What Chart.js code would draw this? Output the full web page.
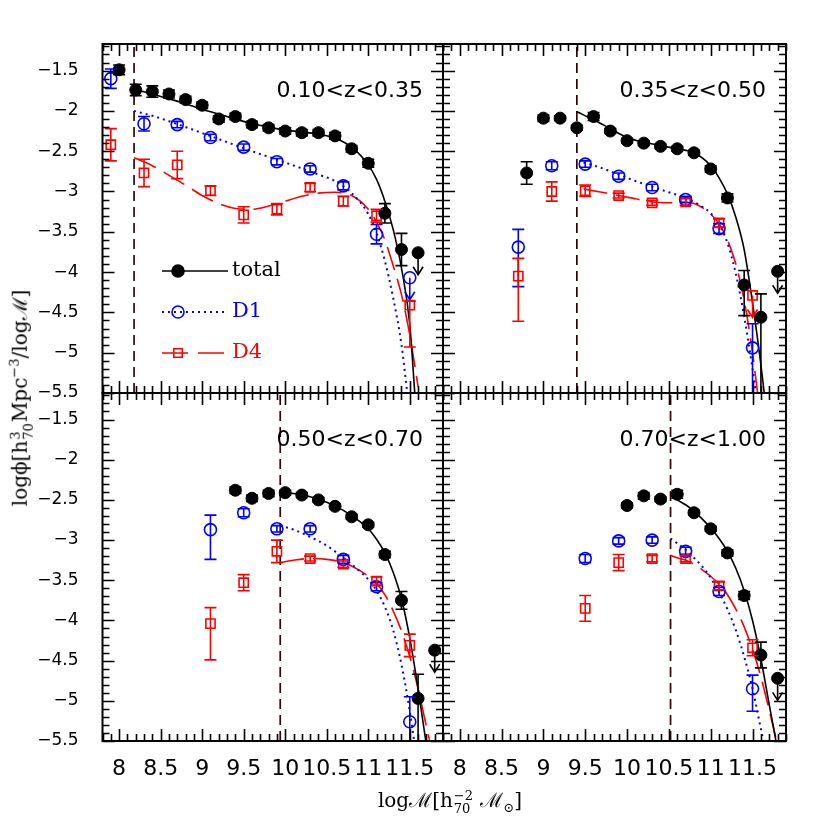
<!DOCTYPE html>
<html>
<head>
<meta charset="utf-8">
<script src="https://cdn.jsdelivr.net/npm/chart.js@4.4.1/dist/chart.umd.min.js"></script>
<style>
  html, body { margin: 0; padding: 0; background: #fff; }
  #wrap { position: relative; width: 830px; height: 830px; overflow: hidden; }
  #wrap canvas { position: absolute; left: 0; top: 0; }
  .ttl { position: absolute; font-family: "DejaVu Serif", serif; font-size: 20px; color: #000; white-space: nowrap; }
  #ytitle { left: 20px; top: 398px; transform: translate(-50%, -50%) rotate(-90deg); }
  #xtitle { left: 450px; top: 800px; transform: translate(-50%, -50%); }
  .ss { display: inline-flex; flex-direction: column; font-size: 13px; line-height: 1; vertical-align: middle; margin: 0 1px; }
  sup, sub { font-size: 13px; }
</style>
</head>
<body>
<div id="wrap">
  <canvas id="cTL" width="830" height="830"></canvas>
  <canvas id="cTR" width="830" height="830"></canvas>
  <canvas id="cBL" width="830" height="830"></canvas>
  <canvas id="cBR" width="830" height="830"></canvas>
  <div id="ytitle" class="ttl">logϕ[h<span class="ss"><span>3</span><span>70</span></span>Mpc<sup>−3</sup>/logℳ]</div>
  <div id="xtitle" class="ttl">logℳ[h<span class="ss"><span>−2</span><span>70</span></span> ℳ<sub>⊙</sub>]</div>
</div>
<script>
// axes
const xTicks = [8, 8.5, 9, 9.5, 10, 10.5, 11, 11.5];
const yTicks = [-1.5, -2, -2.5, -3, -3.5, -4, -4.5, -5, -5.5];
const xRange = [7.8, 11.9];
const yRange = [-5.5, -1.17];
const zLabels = ['0.10<z<0.35', '0.35<z<0.50', '0.50<z<0.70', '0.70<z<1.00'];
const massLimits = [8.18, 9.40, 9.94, 10.52];
const seriesNames = ['total', 'D1', 'D4'];

// 0.10<z<0.35
const tlTotX = [8.0, 8.2, 8.4, 8.6, 8.8, 9.0, 9.2, 9.4, 9.6, 9.8, 10.0, 10.2, 10.4, 10.6, 10.8, 11.0, 11.2, 11.4, 11.6];
const tlTotY = [-1.49, -1.74, -1.76, -1.79, -1.86, -1.93, -2.10, -2.07, -2.17, -2.21, -2.25, -2.27, -2.27, -2.31, -2.47, -2.65, -3.27, -3.72, -3.76];
const tlTotErr = [0.06, 0.07, 0.07, 0.05, 0.04, 0.04, 0.04, 0.04, 0.04, 0.04, 0.04, 0.04, 0.04, 0.04, 0.04, 0.05, 0.12, 0.2, 0];
const tlTotLim = [11.6];
const tlD1X = [7.9, 8.3, 8.7, 9.1, 9.5, 9.9, 10.3, 10.7, 11.1, 11.5];
const tlD1Y = [-1.60, -2.16, -2.17, -2.33, -2.45, -2.63, -2.72, -2.93, -3.53, -4.07];
const tlD1Err = [0.12, 0.09, 0.04, 0.04, 0.04, 0.04, 0.04, 0.05, 0.12, 0];
const tlD1Lim = [11.5];
const tlD4X = [7.9, 8.3, 8.7, 9.1, 9.5, 9.9, 10.3, 10.7, 11.1, 11.5];
const tlD4Y = [-2.42, -2.77, -2.67, -2.99, -3.29, -3.22, -2.95, -3.12, -3.30, -4.41];
const tlD4Err = [0.2, 0.17, 0.17, 0.06, 0.1, 0.07, 0.05, 0.06, 0.08, [0.52, 0.05]];
const tlTotFitX = [8.18, 8.4, 8.6, 8.8, 9.0, 9.2, 9.4, 9.6, 9.8, 10.0, 10.2, 10.4, 10.6, 10.8, 11.0, 11.1, 11.2, 11.3, 11.4, 11.5, 11.56];
const tlTotFitY = [-1.73, -1.79, -1.85, -1.91, -1.98, -2.04, -2.10, -2.16, -2.20, -2.24, -2.26, -2.29, -2.34, -2.45, -2.67, -2.85, -3.12, -3.47, -3.95, -4.65, -5.5];
const tlD1FitX = [8.18, 8.4, 8.8, 9.2, 9.6, 10.0, 10.4, 10.6, 10.8, 11.0, 11.1, 11.2, 11.3, 11.4, 11.47];
const tlD1FitY = [-2.00, -2.06, -2.20, -2.35, -2.50, -2.64, -2.79, -2.87, -3.02, -3.28, -3.52, -3.86, -4.32, -4.90, -5.5];
const tlD4FitX = [8.18, 8.4, 8.6, 8.8, 9.0, 9.2, 9.4, 9.6, 9.8, 10.0, 10.2, 10.4, 10.6, 10.8, 11.0, 11.1, 11.2, 11.3, 11.4, 11.5, 11.6];
const tlD4FitY = [-2.58, -2.68, -2.80, -2.92, -3.05, -3.15, -3.21, -3.22, -3.18, -3.12, -3.06, -3.02, -3.01, -3.05, -3.22, -3.38, -3.60, -3.92, -4.28, -4.78, -5.42];

// 0.35<z<0.50
const trTotX = [8.8, 9.0, 9.2, 9.4, 9.6, 9.8, 10.0, 10.2, 10.4, 10.6, 10.8, 11.0, 11.2, 11.4, 11.6, 11.8];
const trTotY = [-2.77, -2.09, -2.09, -2.21, -2.07, -2.25, -2.37, -2.40, -2.44, -2.47, -2.52, -2.72, -3.08, -4.16, -4.56, -3.99];
const trTotErr = [0.14, 0.04, 0.03, 0.03, 0.05, 0.03, 0.03, 0.03, 0.03, 0.03, 0.03, 0.04, 0.05, [0.38, 0.18], [1.0, 0.29], 0];
const trTotLim = [11.8];
const trD1X = [8.7, 9.1, 9.5, 9.9, 10.3, 10.7, 11.1, 11.5];
const trD1Y = [-3.69, -2.68, -2.66, -2.81, -2.95, -3.10, -3.46, -4.94];
const trD1Err = [[0.49, 0.22], 0.05, 0.04, 0.04, 0.04, 0.04, 0.06, [0.6, 0.3]];
const trD4X = [8.7, 9.1, 9.5, 9.9, 10.3, 10.7, 11.1, 11.5];
const trD4Y = [-4.05, -3.00, -2.99, -3.05, -3.14, -3.13, -3.39, -4.29];
const trD4Err = [[0.56, 0.22], 0.12, 0.07, 0.03, 0.03, 0.04, 0.05, 0];
const trD4Lim = [11.5];
const trTotFitX = [9.40, 9.6, 9.8, 10.0, 10.2, 10.4, 10.6, 10.8, 11.0, 11.1, 11.2, 11.3, 11.4, 11.5, 11.6, 11.64];
const trTotFitY = [-2.01, -2.11, -2.22, -2.33, -2.39, -2.43, -2.47, -2.52, -2.68, -2.83, -3.03, -3.32, -3.72, -4.38, -5.15, -5.5];
const trD1FitX = [9.48, 9.7, 9.9, 10.1, 10.3, 10.5, 10.7, 10.9, 11.0, 11.1, 11.2, 11.3, 11.4, 11.5, 11.54];
const trD1FitY = [-2.64, -2.71, -2.79, -2.87, -2.94, -3.01, -3.08, -3.19, -3.27, -3.41, -3.64, -4.02, -4.55, -5.2, -5.5];
const trD4FitX = [9.48, 9.7, 9.9, 10.1, 10.3, 10.5, 10.7, 10.8, 10.9, 11.0, 11.1, 11.2, 11.3, 11.4, 11.5, 11.56];
const trD4FitY = [-2.97, -3.01, -3.05, -3.09, -3.13, -3.14, -3.13, -3.15, -3.20, -3.28, -3.40, -3.60, -3.90, -4.35, -5.0, -5.5];

// 0.50<z<0.70
const blTotX = [9.4, 9.6, 9.8, 10.0, 10.2, 10.4, 10.6, 10.8, 11.0, 11.2, 11.4, 11.6, 11.8];
const blTotY = [-2.38, -2.48, -2.42, -2.41, -2.44, -2.50, -2.58, -2.71, -2.81, -3.18, -3.75, -4.97, -4.37];
const blTotErr = [0.04, 0.04, 0.04, 0.03, 0.03, 0.03, 0.03, 0.03, 0.03, 0.04, 0.11, [0.6, 0.3], 0];
const blTotLim = [11.8];
const blD1X = [9.1, 9.5, 9.9, 10.3, 10.7, 11.1, 11.5];
const blD1Y = [-2.87, -2.66, -2.86, -2.86, -3.24, -3.58, -5.26];
const blD1Err = [[0.37, 0.18], 0.05, 0.04, 0.04, 0.05, 0.05, [0.3, 0.31]];
const blD4X = [9.1, 9.5, 9.9, 10.3, 10.7, 11.1, 11.5];
const blD4Y = [-4.04, -3.53, -3.14, -3.23, -3.30, -3.51, -4.31];
const blD4Err = [[0.45, 0.2], 0.1, 0.14, 0.03, 0.04, 0.05, 0.14];
const blTotFitX = [9.94, 10.1, 10.3, 10.5, 10.7, 10.9, 11.0, 11.1, 11.2, 11.3, 11.4, 11.5, 11.6, 11.7];
const blTotFitY = [-2.41, -2.42, -2.46, -2.53, -2.63, -2.77, -2.86, -2.99, -3.16, -3.40, -3.73, -4.22, -4.85, -5.55];
const blD1FitX = [9.94, 10.1, 10.3, 10.5, 10.7, 10.9, 11.0, 11.1, 11.2, 11.3, 11.4, 11.5, 11.56];
const blD1FitY = [-2.82, -2.87, -2.96, -3.07, -3.22, -3.39, -3.49, -3.63, -3.83, -4.12, -4.55, -5.13, -5.55];
const blD4FitX = [9.94, 10.1, 10.3, 10.5, 10.7, 10.9, 11.0, 11.1, 11.2, 11.3, 11.4, 11.5, 11.6, 11.7, 11.75];
const blD4FitY = [-3.28, -3.25, -3.23, -3.24, -3.28, -3.38, -3.45, -3.54, -3.68, -3.88, -4.13, -4.45, -4.85, -5.32, -5.55];

// 0.70<z<1.00
const brTotX = [10.0, 10.2, 10.4, 10.6, 10.8, 11.0, 11.2, 11.4, 11.6, 11.8];
const brTotY = [-2.57, -2.45, -2.49, -2.43, -2.66, -2.86, -3.16, -3.69, -4.43, -4.72];
const brTotErr = [0.03, 0.04, 0.03, 0.05, 0.03, 0.03, 0.04, 0.05, 0.16, 0];
const brTotLim = [11.8];
const brD1X = [9.5, 9.9, 10.3, 10.7, 11.1, 11.5];
const brD1Y = [-3.23, -3.01, -3.00, -3.14, -3.64, -4.85];
const brD1Err = [0.05, 0.04, 0.04, 0.05, 0.05, [0.28, 0.17]];
const brD4X = [9.5, 9.9, 10.3, 10.7, 11.1, 11.5];
const brD4Y = [-3.85, -3.28, -3.23, -3.23, -3.57, -4.34];
const brD4Err = [0.16, 0.1, 0.04, 0.04, 0.05, 0.1];
const brTotFitX = [10.52, 10.6, 10.7, 10.8, 10.9, 11.0, 11.1, 11.2, 11.3, 11.4, 11.5, 11.6, 11.7, 11.78];
const brTotFitY = [-2.44, -2.50, -2.56, -2.64, -2.74, -2.85, -2.98, -3.14, -3.35, -3.63, -4.00, -4.48, -5.05, -5.5];
const brD1FitX = [10.52, 10.6, 10.7, 10.8, 10.9, 11.0, 11.1, 11.2, 11.3, 11.4, 11.5, 11.6, 11.63];
const brD1FitY = [-2.98, -3.04, -3.12, -3.22, -3.33, -3.47, -3.65, -3.86, -4.12, -4.45, -4.85, -5.35, -5.5];
const brD4FitX = [10.52, 10.6, 10.7, 10.8, 10.9, 11.0, 11.1, 11.2, 11.3, 11.4, 11.5, 11.6, 11.7, 11.8];
const brD4FitY = [-3.19, -3.22, -3.25, -3.30, -3.37, -3.45, -3.55, -3.68, -3.86, -4.08, -4.36, -4.70, -5.12, -5.55];

const BLUE = '#0000ff';
const RED = '#ff0000';
const Y_AXIS_W = 100;
const X_AXIS_H = 50;

const panels = [
  { id: 'cTL', box: { l: 102.5, r: 443, t: 44, b: 393 }, showX: false, showY: true, legend: true,
    tot: [tlTotX, tlTotY, tlTotErr, tlTotLim], d1: [tlD1X, tlD1Y, tlD1Err, tlD1Lim], d4: [tlD4X, tlD4Y, tlD4Err, []],
    fits: [[tlTotFitX, tlTotFitY], [tlD1FitX, tlD1FitY], [tlD4FitX, tlD4FitY]] },
  { id: 'cTR', box: { l: 443, r: 786, t: 44, b: 393 }, showX: false, showY: false,
    tot: [trTotX, trTotY, trTotErr, trTotLim], d1: [trD1X, trD1Y, trD1Err, []], d4: [trD4X, trD4Y, trD4Err, trD4Lim],
    fits: [[trTotFitX, trTotFitY], [trD1FitX, trD1FitY], [trD4FitX, trD4FitY]] },
  { id: 'cBL', box: { l: 102.5, r: 443, t: 393, b: 741 }, showX: true, showY: true,
    tot: [blTotX, blTotY, blTotErr, blTotLim], d1: [blD1X, blD1Y, blD1Err, []], d4: [blD4X, blD4Y, blD4Err, []],
    fits: [[blTotFitX, blTotFitY], [blD1FitX, blD1FitY], [blD4FitX, blD4FitY]] },
  { id: 'cBR', box: { l: 443, r: 786, t: 393, b: 741 }, showX: true, showY: false,
    tot: [brTotX, brTotY, brTotErr, brTotLim], d1: [brD1X, brD1Y, brD1Err, []], d4: [brD4X, brD4Y, brD4Err, []],
    fits: [[brTotFitX, brTotFitY], [brD1FitX, brD1FitY], [brD4FitX, brD4FitY]] }
];

function pts(xs, ys) {
  return xs.map((x, i) => ({ x: x, y: ys[i] }));
}
function fmt(v) {
  return (v < 0 ? '\u2212' : '') + String(Math.abs(v));
}

// error bars + upper-limit arrows
const errorBars = {
  id: 'errorBars',
  afterDatasetsDraw(chart) {
    const ctx = chart.ctx, a = chart.chartArea;
    const xs = chart.scales.x, ys = chart.scales.y;
    ctx.save();
    ctx.beginPath();
    ctx.rect(a.left, a.top, a.width, a.height);
    ctx.clip();
    chart.data.datasets.forEach(ds => {
      if (!ds.errs) return;
      ctx.strokeStyle = ds.borderColor;
      ctx.lineWidth = 1.6;
      ds.data.forEach((p, j) => {
        const e = ds.errs[j];
        const dn = Array.isArray(e) ? e[0] : e;
        const up = Array.isArray(e) ? e[1] : e;
        const px = xs.getPixelForValue(p.x);
        const py = ys.getPixelForValue(p.y);
        if (dn > 0 || up > 0) {
          const y1 = ys.getPixelForValue(p.y + up);
          const y2 = ys.getPixelForValue(p.y - dn);
          ctx.beginPath();
          ctx.moveTo(px, y1); ctx.lineTo(px, y2);
          if (up > 0) { ctx.moveTo(px - 6, y1); ctx.lineTo(px + 6, y1); }
          if (dn > 0) { ctx.moveTo(px - 6, y2); ctx.lineTo(px + 6, y2); }
          ctx.stroke();
        }
        if (ds.lims && ds.lims.includes(p.x)) {
          ctx.beginPath();
          ctx.moveTo(px, py); ctx.lineTo(px, py + 22);
          ctx.moveTo(px - 5, py + 14); ctx.lineTo(px, py + 22); ctx.lineTo(px + 5, py + 14);
          ctx.stroke();
        }
      });
    });
    ctx.restore();
  }
};

// frame with inward ticks on all sides
const frame = {
  id: 'frame',
  afterDraw(chart) {
    const ctx = chart.ctx, a = chart.chartArea;
    const xs = chart.scales.x, ys = chart.scales.y;
    ctx.save();
    ctx.strokeStyle = '#000';
    ctx.lineWidth = 1.6;
    ctx.beginPath();
    for (let k = 78; k <= 119; k++) {
      const px = Math.round(xs.getPixelForValue(k / 10)) + 0.5;
      const len = k % 5 === 0 ? 12 : 7;
      ctx.moveTo(px, a.bottom); ctx.lineTo(px, a.bottom - len);
      ctx.moveTo(px, a.top); ctx.lineTo(px, a.top + len);
    }
    for (let k = -55; k <= -12; k++) {
      const py = Math.round(ys.getPixelForValue(k / 10)) + 0.5;
      const len = k % 5 === 0 ? 12 : 7;
      ctx.moveTo(a.left, py); ctx.lineTo(a.left + len, py);
      ctx.moveTo(a.right, py); ctx.lineTo(a.right - len, py);
    }
    ctx.stroke();
    ctx.lineWidth = 2;
    ctx.strokeRect(a.left, a.top, a.width, a.height);
    const label = chart.options.plugins.frame.label;
    ctx.fillStyle = '#000';
    ctx.font = '22px "DejaVu Sans"';
    ctx.textAlign = 'right';
    ctx.textBaseline = 'middle';
    ctx.fillText(label, a.right - 20, a.top + 47);
    ctx.restore();
  }
};

// in-panel key
const keyBox = {
  id: 'keyBox',
  afterDraw(chart) {
    if (!chart.options.plugins.keyBox.show) return;
    const ctx = chart.ctx;
    const rows = [
      { y: 271, color: '#000', dash: [], lw: 1.6, style: 'circle', r: 6, fill: true },
      { y: 312, color: BLUE, dash: [2, 4], lw: 2, style: 'circle', r: 6, fill: false },
      { y: 353, color: RED, dash: [26, 10], lw: 1.6, style: 'rect', r: 6, fill: false }
    ];
    ctx.save();
    rows.forEach((r, i) => {
      ctx.strokeStyle = r.color;
      ctx.lineWidth = r.lw;
      ctx.setLineDash(r.dash);
      ctx.beginPath();
      ctx.moveTo(162, r.y); ctx.lineTo(228, r.y);
      ctx.stroke();
      ctx.setLineDash([]);
      ctx.lineWidth = 1.6;
      ctx.fillStyle = r.fill ? r.color : 'rgba(0,0,0,0)';
      Chart.helpers.drawPoint(ctx, { pointStyle: r.style, radius: r.r, borderWidth: 1.6, rotation: 0 }, 178, r.y);
      ctx.fillStyle = r.color;
      ctx.font = '21px "DejaVu Serif"';
      ctx.textAlign = 'left';
      ctx.textBaseline = 'middle';
      ctx.fillText(seriesNames[i], 232, r.y);
    });
    ctx.restore();
  }
};

panels.forEach((p, i) => {
  const pad = {
    left: p.showY ? p.box.l - Y_AXIS_W : p.box.l,
    right: 830 - p.box.r,
    top: p.box.t,
    bottom: p.showX ? 830 - p.box.b - X_AXIS_H : 830 - p.box.b
  };
  const limLine = [{ x: massLimits[i], y: yRange[0] }, { x: massLimits[i], y: yRange[1] }];
  const datasets = [
    { label: seriesNames[0], data: pts(p.tot[0], p.tot[1]), errs: p.tot[2], lims: p.tot[3],
      pointStyle: 'circle', pointRadius: 6, backgroundColor: '#000', borderColor: '#000', borderWidth: 1, order: 0 },
    { label: seriesNames[1], data: pts(p.d1[0], p.d1[1]), errs: p.d1[2], lims: p.d1[3],
      pointStyle: 'circle', pointRadius: 6, backgroundColor: 'rgba(0,0,0,0)', borderColor: BLUE, borderWidth: 1.6, order: 0 },
    { label: seriesNames[2], data: pts(p.d4[0], p.d4[1]), errs: p.d4[2], lims: p.d4[3],
      pointStyle: 'rect', pointRadius: 6.5, backgroundColor: 'rgba(0,0,0,0)', borderColor: RED, borderWidth: 1.6, order: 0 },
    { label: 'total fit', data: pts(p.fits[0][0], p.fits[0][1]), showLine: true, pointRadius: 0,
      borderColor: '#000', borderWidth: 1.6, cubicInterpolationMode: 'monotone', order: 1 },
    { label: 'D1 fit', data: pts(p.fits[1][0], p.fits[1][1]), showLine: true, pointRadius: 0,
      borderColor: BLUE, borderWidth: 2, borderDash: [2, 4], cubicInterpolationMode: 'monotone', order: 1 },
    { label: 'D4 fit', data: pts(p.fits[2][0], p.fits[2][1]), showLine: true, pointRadius: 0,
      borderColor: RED, borderWidth: 1.6, borderDash: [24, 9], cubicInterpolationMode: 'monotone', order: 1 },
    { label: 'limit', data: limLine, showLine: true, pointRadius: 0,
      borderColor: '#2a0808', borderWidth: 1.7, borderDash: [10, 6], order: 2 }
  ];

  new Chart(document.getElementById(p.id), {
    type: 'scatter',
    data: { datasets: datasets },
    plugins: [errorBars, frame, keyBox],
    options: {
      responsive: false,
      animation: false,
      events: [],
      layout: { padding: pad },
      plugins: {
        legend: { display: false },
        tooltip: { enabled: false },
        frame: { label: zLabels[i] },
        keyBox: { show: !!p.legend }
      },
      scales: {
        x: {
          type: 'linear', min: xRange[0], max: xRange[1], display: p.showX,
          grid: { display: false }, border: { display: false },
          afterBuildTicks: s => { s.ticks = xTicks.map(v => ({ value: v })); },
          afterFit: s => { if (p.showX) s.height = X_AXIS_H; },
          ticks: { autoSkip: false, maxRotation: 0, minRotation: 0, padding: 7, color: '#000',
                   font: { family: 'DejaVu Sans', size: 22 }, callback: v => fmt(v) }
        },
        y: {
          type: 'linear', min: yRange[0], max: yRange[1], display: p.showY,
          grid: { display: false }, border: { display: false },
          afterBuildTicks: s => { s.ticks = yTicks.map(v => ({ value: v })); },
          afterFit: s => { if (p.showY) s.width = Y_AXIS_W; },
          ticks: { autoSkip: false, padding: 16, color: '#000',
                   font: { family: 'DejaVu Sans', size: 17 }, callback: v => fmt(v) }
        }
      }
    }
  });
});
</script>
</body>
</html>
